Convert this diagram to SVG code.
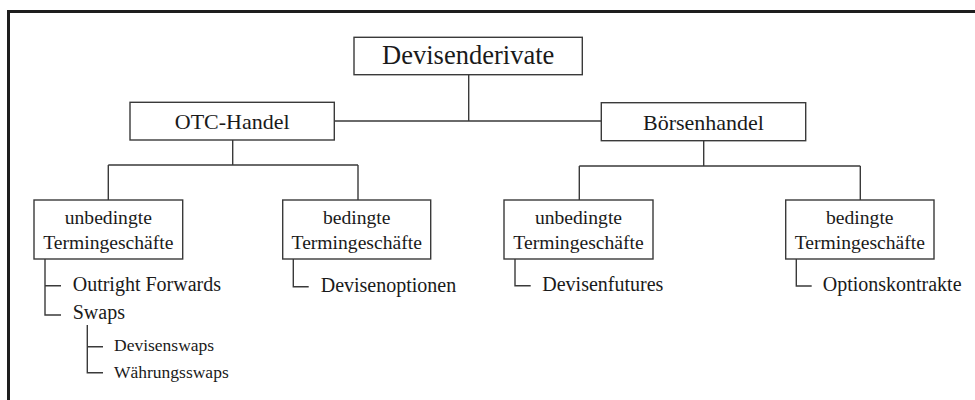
<svg xmlns="http://www.w3.org/2000/svg" width="975" height="400" viewBox="0 0 975 400">
  <style>
    .box { fill: #fff; stroke: #3a3a3a; stroke-width: 1.4; }
    .ln { fill: none; stroke: #3a3a3a; stroke-width: 1.4; }
    .frame { fill: none; stroke: #1e1e1e; stroke-width: 3; }
    text { font-family: "Liberation Serif", "Times New Roman", serif; fill: #1a1a1a; }
    .t1 { font-size: 26.5px; text-anchor: middle; }
    .t2 { font-size: 22px; text-anchor: middle; }
    .t3 { font-size: 19.6px; text-anchor: middle; }
    .t4 { font-size: 20px; }
    .t5 { font-size: 17.5px; }
  </style>
  <rect width="975" height="400" fill="#fff"/>
  <!-- outer frame, open to the right and bottom -->
  <path class="frame" d="M8.5,402 V11.5 H977"/>

  <g id="connectors">
    <!-- root to second level -->
    <path class="ln" d="M468.7,75 V121 M334,121 H601.3"/>
    <!-- OTC-Handel children -->
    <path class="ln" d="M232.7,140 V165 M108.3,165 H358 M108.3,165 V200 M358,165 V200"/>
    <!-- Börsenhandel children -->
    <path class="ln" d="M703.7,140.7 V166 M579.3,166 H860.3 M579.3,166 V200 M860.3,166 V200"/>
    <!-- list branches -->
    <path class="ln" d="M45,259 V315 H61 M45,285.7 H61"/>
    <path class="ln" d="M87.3,325 V372.7 H103 M87.3,346.7 H103"/>
    <path class="ln" d="M293.3,259 V286.7 H308.7"/>
    <path class="ln" d="M515,259 V285.7 H530.7"/>
    <path class="ln" d="M796.3,259 V286 H811.7"/>
  </g>

  <g id="devisenderivate">
    <rect class="box" x="354" y="37.3" width="228.3" height="37.4"/>
    <text class="t1" x="468.2" y="64">Devisenderivate</text>
  </g>
  <g id="otc-handel">
    <rect class="box" x="130" y="102.3" width="204.3" height="37.7"/>
    <text class="t2" x="232.2" y="129.3">OTC-Handel</text>
  </g>
  <g id="boersenhandel">
    <rect class="box" x="601.3" y="102.7" width="204.4" height="38"/>
    <text class="t2" x="703.5" y="129.5">Börsenhandel</text>
  </g>

  <g id="otc-unbedingt">
    <rect class="box" x="34" y="200" width="148.7" height="59"/>
    <text class="t3" x="108.3" y="224.3">unbedingte</text>
    <text class="t3" x="108.3" y="248.7">Termingeschäfte</text>
  </g>
  <g id="otc-bedingt">
    <rect class="box" x="282.7" y="200" width="148" height="59"/>
    <text class="t3" x="356.7" y="224.3">bedingte</text>
    <text class="t3" x="356.7" y="248.7">Termingeschäfte</text>
  </g>
  <g id="boerse-unbedingt">
    <rect class="box" x="504" y="200" width="149" height="59"/>
    <text class="t3" x="578.5" y="224.3">unbedingte</text>
    <text class="t3" x="578.5" y="248.7">Termingeschäfte</text>
  </g>
  <g id="boerse-bedingt">
    <rect class="box" x="785.7" y="200" width="148.3" height="59"/>
    <text class="t3" x="859.8" y="224.3">bedingte</text>
    <text class="t3" x="859.8" y="248.7">Termingeschäfte</text>
  </g>

  <g id="outright-forwards"><text class="t4" x="72.7" y="291">Outright Forwards</text></g>
  <g id="swaps"><text class="t4" x="72.7" y="319.3">Swaps</text></g>
  <g id="devisenswaps"><text class="t5" x="114" y="351.3">Devisenswaps</text></g>
  <g id="waehrungsswaps"><text class="t5" x="114" y="377.7">Währungsswaps</text></g>
  <g id="devisenoptionen"><text class="t4" x="320.7" y="291.7">Devisenoptionen</text></g>
  <g id="devisenfutures"><text class="t4" x="542.3" y="291">Devisenfutures</text></g>
  <g id="optionskontrakte"><text class="t4" x="822.7" y="291.3">Optionskontrakte</text></g>
</svg>
